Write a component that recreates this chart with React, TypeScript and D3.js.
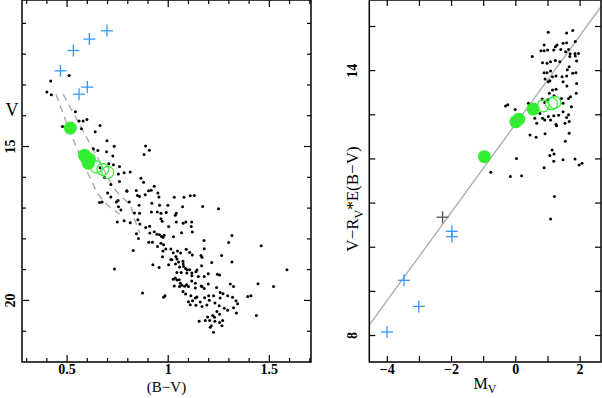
import React from "react";
import * as d3 from "d3";

const W = 602;
const H = 398;

// ---- left panel: V vs (B-V) ----
const cmdStars: [number, number][] = [
  [0.7, 16.51], [0.795, 16.44], [0.848, 16.59], [0.903, 16.44], [0.949, 16.51], [1.03, 16.65],
  [1.078, 16.65], [1.109, 16.6], [1.129, 16.59], [0.954, 16.64], [0.66, 16.82], [0.673, 16.8],
  [0.744, 16.8], [0.807, 16.8], [0.754, 16.96], [0.766, 17.06], [0.856, 16.91], [0.919, 16.84],
  [0.957, 16.91], [0.998, 16.91], [1.071, 16.96], [1.17, 16.95], [1.249, 17.02], [0.886, 16.57],
  [0.833, 17.16], [0.858, 17.17], [0.917, 17.13], [0.946, 17.13], [0.964, 17.17], [0.99, 17.14],
  [1.04, 17.17], [1.035, 17.23], [0.748, 17.45], [0.782, 17.41], [0.812, 17.48], [0.85, 17.38],
  [0.86, 17.52], [0.889, 17.63], [0.908, 17.59], [0.964, 17.35], [0.97, 17.43], [1.002, 17.6],
  [1.04, 17.45], [1.074, 17.49], [1.087, 17.45], [1.116, 17.45], [1.114, 17.6], [0.909, 17.81],
  [0.931, 17.77], [0.944, 17.85], [0.967, 17.92], [0.957, 17.87], [0.974, 17.95], [0.98, 17.88],
  [1.026, 17.93], [1.066, 17.8], [1.119, 17.78], [1.177, 18.05], [0.843, 17.83], [0.904, 18.11],
  [0.922, 18.11], [0.853, 17.99], [0.964, 18.14], [0.947, 18.25], [0.977, 18.19], [0.988, 18.33],
  [0.974, 18.39], [1.013, 18.33], [1.025, 18.45], [1.046, 18.39], [1.061, 18.46], [1.089, 18.34],
  [1.106, 18.44], [1.119, 18.52], [1.162, 18.54], [1.167, 18.6], [1.178, 18.32], [1.264, 18.54],
  [1.315, 17.89], [1.299, 18.12], [0.827, 18.38], [1.013, 18.67], [1.043, 18.65], [1.073, 18.73],
  [0.924, 18.84], [0.955, 18.93], [1.002, 18.84], [0.972, 18.58], [1.038, 18.57], [1.036, 18.82],
  [1.056, 18.91], [1.074, 18.82], [1.086, 18.96], [1.106, 19.0], [1.137, 19.07], [1.142, 19.01],
  [1.165, 18.87], [1.215, 18.77], [1.243, 19.15], [1.254, 19.17], [1.315, 18.75], [1.043, 19.09],
  [1.064, 19.09], [1.092, 19.11], [1.117, 19.2], [1.149, 19.22], [1.178, 19.22], [1.198, 19.13],
  [0.734, 18.98], [1.587, 19.0], [1.46, 18.22], [1.025, 19.31], [1.043, 19.34], [1.054, 19.33],
  [1.03, 19.53], [1.056, 19.55], [1.068, 19.51], [1.081, 19.54], [1.091, 19.49], [1.116, 19.37],
  [1.134, 19.44], [1.163, 19.53], [1.178, 19.61], [1.198, 19.47], [1.239, 19.58], [1.257, 19.74],
  [1.271, 19.78], [1.307, 19.47], [1.323, 19.55], [1.444, 19.46], [1.521, 19.55], [1.393, 19.87],
  [1.409, 19.85], [0.873, 19.76], [0.977, 19.9], [0.984, 19.85], [1.073, 19.71], [1.086, 19.79],
  [1.112, 19.85], [1.134, 19.92], [1.142, 19.89], [1.18, 19.91], [1.2, 19.85], [1.224, 19.85],
  [1.257, 19.92], [1.294, 19.85], [1.318, 19.9], [1.335, 20.01], [1.1, 20.04], [1.12, 20.01],
  [1.109, 20.14], [1.137, 20.16], [1.158, 20.05], [1.167, 20.2], [1.191, 20.15], [1.203, 19.99],
  [1.231, 20.08], [1.252, 20.17], [1.277, 20.25], [1.294, 20.32], [1.323, 20.24], [1.343, 20.11],
  [1.337, 20.41], [1.241, 20.36], [1.254, 20.45], [1.22, 20.49], [1.195, 20.54], [1.229, 20.55],
  [1.183, 20.65], [1.205, 20.65], [1.231, 20.68], [1.254, 20.72], [1.269, 20.65], [1.153, 20.68],
  [1.208, 20.87], [1.224, 21.03], [1.266, 20.82], [1.436, 20.49], [1.213, 20.82],
  [1.018, 18.68], [1.051, 18.75], [1.076, 18.9], [1.093, 19.0], [1.117, 19.11], [1.035, 19.27],
  [1.06, 19.44], [1.1, 19.55], [1.134, 19.6], [1.167, 19.55],
  [0.419, 12.87], [0.51, 12.69], [0.4, 13.23], [0.422, 13.32], [0.541, 13.87], [0.559, 14.17],
  [0.579, 14.17], [0.598, 14.12], [0.477, 14.35], [0.571, 14.42], [0.663, 14.32], [0.639, 14.52],
  [0.697, 14.81], [0.733, 14.99], [0.888, 14.98], [0.907, 15.12], [0.881, 15.26], [0.63, 15.07],
  [0.652, 15.13], [0.695, 15.17], [0.726, 15.31], [0.706, 15.56], [0.729, 15.59], [0.759, 15.65],
  [0.663, 15.69], [0.754, 15.89], [0.782, 15.85], [0.812, 15.83], [0.685, 16.01], [0.716, 16.23],
  [0.865, 16.03], [0.878, 16.16], [0.931, 16.29], [0.916, 16.42], [0.842, 16.43], [0.796, 16.45],
  [0.858, 16.62], [0.759, 16.14], [0.716, 16.64], [0.752, 16.75],
];
const cmdFilled: [number, number][] = [[0.516, 14.4], [0.586, 15.28], [0.594, 15.37], [0.61, 15.41], [0.605, 15.54]];
const cmdOpen: [number, number][] = [[0.644, 15.66], [0.677, 15.74], [0.701, 15.84]];
const cmdCross: [number, number][] = [[0.467, 12.54], [0.531, 11.88], [0.61, 11.51], [0.697, 11.24], [0.559, 13.3], [0.6, 13.07]];
const isoBlue: [number, number][] = [[0.445, 13.3], [0.52, 14.6], [0.565, 15.3], [0.62, 16.1], [0.66, 16.6], [0.7, 16.9], [0.76, 17.2]];
const isoRed: [number, number][] = [[0.48, 13.3], [0.58, 14.5], [0.67, 15.6], [0.75, 16.5], [0.81, 16.9], [0.83, 17.3], [0.86, 17.8]];
const bvMajor = [0.5, 1, 1.5];
const bvLabels = ["0.5", "1", "1.5"];
const vMajor = [15, 20];

// ---- right panel: V - Rv*E(B-V) vs Mv ----
const mvStars: [number, number][] = [
  [1.01, 14.87], [1.58, 14.85], [1.77, 14.91], [0.88, 14.58], [1.28, 14.58], [1.23, 14.54], [1.47, 14.62],
  [1.58, 14.63], [1.85, 14.66], [0.78, 14.45], [0.88, 14.45], [0.99, 14.47], [1.18, 14.47], [1.4, 14.48],
  [1.55, 14.43], [1.64, 14.48], [1.69, 14.38], [1.84, 14.39], [1.95, 14.39], [0.51, 14.32], [0.83, 14.18],
  [0.97, 14.17], [1.08, 14.2], [1.23, 14.23], [1.37, 14.2], [1.68, 14.32], [1.85, 14.33], [1.89, 14.22],
  [0.88, 13.95], [0.97, 13.95], [1.08, 13.99], [1.6, 14.02], [1.66, 14.09], [1.77, 13.94], [1.87, 13.95],
  [0.91, 13.81], [1.14, 13.86], [1.25, 13.88], [1.44, 13.86], [1.58, 13.88], [1.01, 13.75], [1.06, 13.77],
  [1.47, 13.75], [1.59, 13.65], [1.89, 13.71], [1.14, 13.56], [1.25, 13.58], [1.04, 13.49], [1.19, 13.43],
  [0.82, 13.36], [0.99, 13.34], [1.42, 13.37], [1.64, 13.37], [1.7, 13.41], [1.88, 13.49], [0.39, 13.26],
  [0.9, 13.28], [1.47, 13.26], [1.73, 13.18], [-0.32, 13.2], [-0.25, 13.23], [-0.02, 13.12], [0.62, 13.09],
  [0.75, 13.03], [0.83, 12.92], [1.01, 12.96], [1.08, 12.88], [1.18, 12.98], [1.33, 12.99], [1.47, 13.07],
  [1.58, 12.94], [1.64, 13.0], [0.59, 12.92], [0.65, 12.81], [0.9, 12.88], [1.25, 12.78], [1.27, 12.75],
  [1.53, 12.81], [1.66, 12.85], [0.44, 12.54], [0.63, 12.49], [0.91, 12.57], [1.66, 12.58], [1.54, 12.4],
  [1.13, 12.2], [1.19, 12.11], [1.06, 12.08], [0.88, 11.8], [1.18, 11.95], [1.47, 11.98], [1.84, 12.0],
  [2.06, 11.9], [1.97, 11.86], [0.02, 12.01], [-0.78, 11.7], [-0.17, 11.6], [0.18, 11.62], [1.2, 11.15],
  [1.08, 10.64],
];
const mvFilled: [number, number][] = [[-0.98, 12.05], [0.0, 12.84], [0.09, 12.9], [0.54, 13.13]];
const mvOpen: [number, number][] = [[0.85, 13.2], [1.11, 13.25], [1.21, 13.28]];
const mvCross: [number, number][] = [[-4.01, 8.08], [-3.48, 9.25], [-3.02, 8.66], [-1.99, 10.36], [-1.99, 10.24]];
const mvCrossDark: [number, number][] = [[-2.28, 10.68]];
const fitLine: [number, number][] = [[-4.6, 8.2], [2.7, 15.5]];
const mvMajor = [-4, -2, 0, 2];
const mvLabels = ["\u22124", "\u22122", "0", "2"];
const yrMajor = [8, 14];

const font = "'Liberation Serif', 'DejaVu Serif', serif";
const GREEN = "#33ee33";
const BLUE = "#3399ff";

type Scale = d3.ScaleLinear<number, number>;

function Frame({ x, y, xMinor, xMajor, yMinor, yMajor, majLen, minLen }: {
  x: Scale; y: Scale; xMinor: number[]; xMajor: number[]; yMinor: number[]; yMajor: number[]; majLen: number; minLen: number;
}) {
  const [x0, x1] = x.range();
  const [ya, yb] = y.range();
  const top = Math.min(ya, yb), bot = Math.max(ya, yb);
  const ticks: JSX.Element[] = [];
  const isMaj = (arr: number[], v: number) => arr.some((m) => Math.abs(m - v) < 1e-6);
  xMinor.forEach((v, i) => {
    const L = isMaj(xMajor, v) ? majLen : minLen;
    const px = x(v);
    ticks.push(<line key={"xb" + i} x1={px} x2={px} y1={bot} y2={bot - L} />);
    ticks.push(<line key={"xt" + i} x1={px} x2={px} y1={top} y2={top + L} />);
  });
  yMinor.forEach((v, i) => {
    const L = isMaj(yMajor, v) ? majLen : minLen;
    const py = y(v);
    ticks.push(<line key={"yl" + i} x1={x0} x2={x0 + L} y1={py} y2={py} />);
    ticks.push(<line key={"yr" + i} x1={x1} x2={x1 - L} y1={py} y2={py} />);
  });
  return (
    <g stroke="#000" strokeWidth={1.2} fill="none">
      {ticks}
      <rect x={x0} y={top} width={x1 - x0} height={bot - top} strokeWidth={1.5} />
    </g>
  );
}

function Cross({ cx, cy, color, s = 6 }: { cx: number; cy: number; color: string; s?: number }) {
  return (
    <g stroke={color} strokeWidth={1.3}>
      <line x1={cx - s} x2={cx + s} y1={cy} y2={cy} />
      <line x1={cx} x2={cx} y1={cy - s} y2={cy + s} />
    </g>
  );
}

export default function App() {
  // left panel scales
  const xL = d3.scaleLinear().domain([0.277, 1.706]).range([22, 311]);
  const yL = d3.scaleLinear().domain([10.24, 22]).range([0, 362]);
  // right panel scales
  const xR = d3.scaleLinear().domain([-4.56, 2.65]).range([369.3, 601]);
  const yR = d3.scaleLinear().domain([7.4, 15.6]).range([362, 0]);

  const isoLine = d3.line<[number, number]>().x((d) => xL(d[0])).y((d) => yL(d[1])).curve(d3.curveMonotoneY);
  const fit = d3.line<[number, number]>().x((d) => xR(d[0])).y((d) => yR(d[1]));

  const bvTicks = d3.range(3, 18).map((v) => +(v / 10).toFixed(1));
  const vTicks = d3.range(11, 22);
  const mvTicks = d3.range(-4, 3);
  const yrTicks = d3.range(8, 16);

  return (
    <svg width={W} height={H} style={{ position: "absolute", left: 0, top: 0, background: "#fff" }} fontFamily={font}>
      <defs>
        <clipPath id="clipR">
          <rect x={369.3} y={0} width={601 - 369.3} height={362} />
        </clipPath>
      </defs>

      {/* left panel */}
      <g fill="none" stroke="#aaa" strokeWidth={1.4} strokeDasharray="7 5">
        <path d={isoLine(isoBlue) || ""} />
        <path d={isoLine(isoRed) || ""} />
      </g>
      <g fill="#000">
        {cmdStars.map((d, i) => <circle key={i} cx={xL(d[0])} cy={yL(d[1])} r={1.5} />)}
      </g>
      <g fill={GREEN}>
        {cmdFilled.map((d, i) => <circle key={i} cx={xL(d[0])} cy={yL(d[1])} r={6.5} />)}
      </g>
      <g fill="none" stroke={GREEN} strokeWidth={1.2}>
        {cmdOpen.map((d, i) => <circle key={i} cx={xL(d[0])} cy={yL(d[1])} r={6} />)}
      </g>
      {cmdCross.map((d, i) => <Cross key={i} cx={xL(d[0])} cy={yL(d[1])} color={BLUE} />)}
      <Frame x={xL} y={yL} xMinor={bvTicks} xMajor={bvMajor} yMinor={vTicks} yMajor={vMajor} majLen={7} minLen={4} />
      <g fontSize={14} fontWeight="bold" textAnchor="middle">
        {bvMajor.map((v, i) => <text key={i} x={xL(v)} y={374}>{bvLabels[i]}</text>)}
        {vMajor.map((v) => (
          <text key={v} transform={`translate(15,${yL(v)}) rotate(-90)`}>{v}</text>
        ))}
      </g>
      <text x={166.5} y={392} fontSize={15} textAnchor="middle">(B&#8722;V)</text>
      <text x={12} y={116} fontSize={18} textAnchor="middle">V</text>

      {/* right panel */}
      <path d={fit(fitLine) || ""} stroke="#aaa" strokeWidth={1.3} fill="none" clipPath="url(#clipR)" />
      <g fill="#000">
        {mvStars.map((d, i) => <circle key={i} cx={xR(d[0])} cy={yR(d[1])} r={1.5} />)}
      </g>
      <g fill={GREEN}>
        {mvFilled.map((d, i) => <circle key={i} cx={xR(d[0])} cy={yR(d[1])} r={6.5} />)}
      </g>
      <g fill="none" stroke={GREEN} strokeWidth={1.2}>
        {mvOpen.map((d, i) => <circle key={i} cx={xR(d[0])} cy={yR(d[1])} r={6} />)}
      </g>
      {mvCross.map((d, i) => <Cross key={i} cx={xR(d[0])} cy={yR(d[1])} color={BLUE} />)}
      {mvCrossDark.map((d, i) => <Cross key={i} cx={xR(d[0])} cy={yR(d[1])} color="#4a5566" />)}
      <Frame x={xR} y={yR} xMinor={mvTicks} xMajor={mvMajor} yMinor={yrTicks} yMajor={yrMajor} majLen={6} minLen={6} />
      <g fontSize={14} fontWeight="bold" textAnchor="middle">
        {mvMajor.map((v, i) => <text key={i} x={xR(v)} y={374}>{mvLabels[i]}</text>)}
        {yrMajor.map((v) => (
          <text key={v} transform={`translate(357,${yR(v)}) rotate(-90)`}>{v}</text>
        ))}
      </g>
      <text x={485} y={389} fontSize={16} textAnchor="middle">
        M<tspan fontSize={12} dy={4}>V</tspan>
      </text>
      <text transform="translate(358,199) rotate(-90)" fontSize={17} textAnchor="middle">
        V&#8722;R<tspan fontSize={12} dy={5}>V</tspan><tspan dy={-5}>*E(B&#8722;V)</tspan>
      </text>
    </svg>
  );
}
